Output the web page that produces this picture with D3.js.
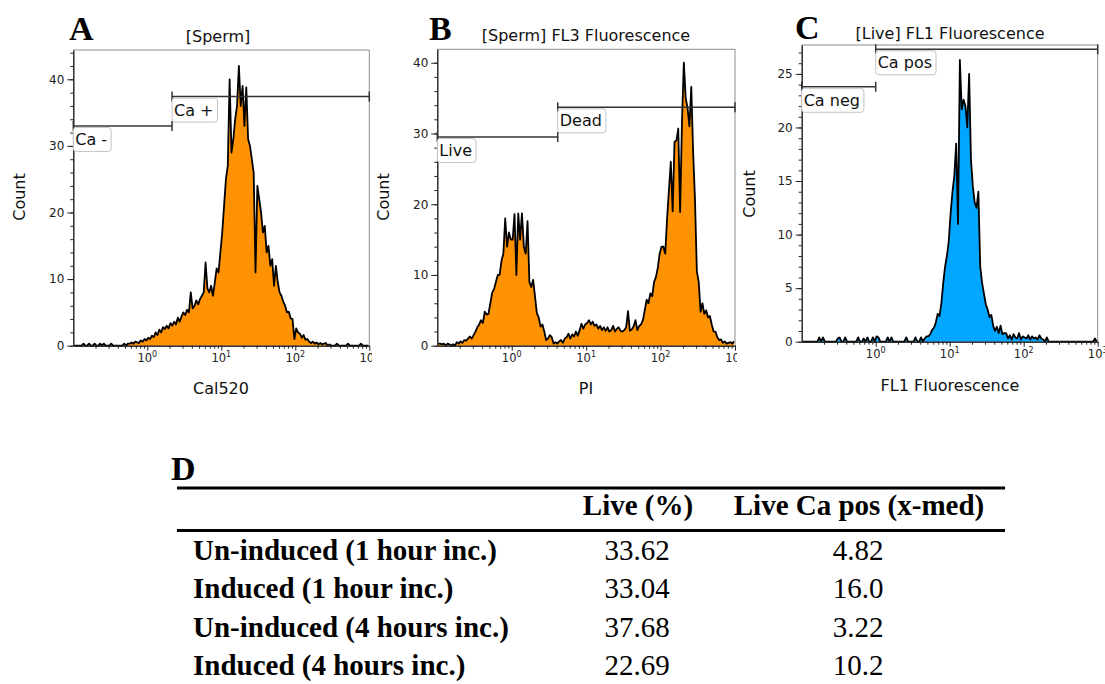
<!DOCTYPE html>
<html>
<head>
<meta charset="utf-8">
<script src="https://cdn.jsdelivr.net/npm/d3@7"></script>
<style>
  body { margin: 0; background: #fff; }
</style>
</head>
<body>
<script>
// histogram bins: 160 bins, 0.025 decade wide, starting at 10^-1
var binStart = -1;
var binStep = 0.025;

// Panel A - Cal520 counts
var calCounts = [
  0,0,0,0,0,0.3,0,0,0.3,0,
  0,0.3,0,0,0.3,0,0.3,0,0,0,
  0.3,0,0,0,0,0,0,0.3,0,0.3,
  0.3,0.5,0.3,0.6,0.5,0.4,0.8,0.6,1,0.8,
  1.2,1,1.5,1.3,2,1.6,2.4,2,2.8,2.5,
  3,2.6,3.4,3,3.6,3.2,4.2,3.6,4.4,5,
  4.6,5.4,5,8,5.6,6,6.8,6.2,7,7.5,
  8,12.5,8.6,8,9,7.5,9.5,11.6,11,14,
  17,21,25,27,40,29,31,34,36,42,
  36,39,33,38.8,31,30,28,26,11,24,
  22,20,17,18,14,15,12,13,9,12,
  9.6,8,7.5,6.6,6,5,5.1,4.1,4,1,
  2.6,2,1.8,1.2,1.6,0.9,1,0.6,0.4,0.6,
  0.3,0.5,0.2,0.4,0.2,0.3,0.4,0,0.2,0,
  0,0,0.3,0,0,0,0,0,0.3,0,
  0,0,0,0,0,0.3,0,0,0,0
];

// Panel B - PI counts
var piCounts = [
  0.3,0.3,0.2,0.3,0,0.3,0.2,0,0.2,0,
  0.5,0.3,0.6,0.4,0.8,0.7,1,1.3,1,1.5,
  2,2.6,3,3.6,3.2,4.8,4.4,4.5,6,7.5,
  8,9,10,10,12,13,18,14,16,15,
  15,18.6,10,18.7,15,18.7,14,13,17.6,9,
  8.3,9.3,7,4.6,4,2.7,3,2,0.8,1,
  1.5,1.2,0.3,0.5,0.3,0.6,0.8,0.4,1,1.2,
  1.7,1,1.6,1.3,2,1.4,2.2,3.1,2.4,3,
  3.2,3.6,3,3.4,2.8,3,2.4,2.8,2.2,2.6,
  2.1,2.6,2,2.2,2.8,2,2.4,2.6,2.1,2,
  2.2,2.6,4.9,2.1,2.3,2.7,3.6,2.2,2.8,3,
  3.6,5,6.5,6,7.4,7,9,9.7,11,13,
  14,14,13,18,22,26,19,28.8,29,30.7,
  18.9,31.6,40,35,33.6,31,36.6,27.4,20.6,10.5,
  9,4.8,6,4.5,5,4,4.2,3,2,2,
  1.2,0.8,0.9,0.4,0.6,0.3,0.4,0.5,0.3,0.6
];

// Panel C - FL1 counts (live gate)
var fl1Counts = [
  0,0,0,0,0,0,0,0,0,0.4,
  0,0.4,0,0,0,0,0,0,0,0.3,
  0.4,0,0,0.4,0,0,0,0,0,0,
  0.4,0,0,0.3,0,0.4,0,0,0.4,0,
  0.5,0.4,0,0,0,0,0.4,0,0.4,0,
  0,0,0,0,0,0,0.4,0,0,0,
  0,0.4,0,0,0.4,0,0.3,0.5,0.5,0.7,
  1.1,1.3,1.8,2.6,2.4,3.6,5.5,7,8,9.4,
  12,14,15.5,18.5,11,26.3,21.7,22.6,22,20,
  25,17,14.5,13,12.5,14,7,5.5,4.5,3.5,
  3,2.3,2.5,1.5,1,1.4,0.8,1.5,0.7,0.8,
  0.8,0.3,0.6,0.2,0.7,0.4,0.3,0.8,0.2,0.5,
  0.4,0.3,0.6,0.2,0.5,0.3,0.4,0.2,0.6,0.3,
  0.2,0,0.4,0,0,0,0,0,0,0,
  0,0,0,0,0,0,0,0,0,0,
  0,0,0,0,0,0,0,0,0.3,0
];

// gates: [name, low, high, count level]
var calGates = [["Ca -", 0.1, 2.16, 33.0], ["Ca +", 2.16, 1000, 37.4]];
var piGates = [["Live", 0.1, 4.15, 29.5], ["Dead", 4.15, 1000, 33.7]];
var fl1Gates = [["Ca neg", 0.1, 1.0, 23.8], ["Ca pos", 1.0, 1000, 27.3]];

var xMajor = [1, 10, 100, 1000];
var xExp = ["0", "1", "2", "3"];

// table D
var tableColumns = ["Live (%)", "Live Ca pos (x-med)"];
var rowLabels = ["Un-induced (1 hour inc.)", "Induced (1 hour inc.)", "Un-induced (4 hours inc.)", "Induced (4 hours inc.)"];
var liveValues = ["33.62", "33.04", "37.68", "22.69"];
var caPosValues = ["4.82", "16.0", "3.22", "10.2"];

var w = 1105;
var h = 684;
var sans = "'DejaVu Sans', Verdana, sans-serif";
var serif = "'Liberation Serif', 'Times New Roman', serif";

var svg = d3.select("body")
  .append("svg")
  .attr("width", w)
  .attr("height", h);
var defs = svg.append("defs");

var panels = [
  { id: "a", letter: "A", letterX: 69, letterY: 40, counts: calCounts, gates: calGates, fill: "#ff9200",
    left: 73.3, right: 369.3, top: 50, bottom: 345.7, yMax: 44.4, yStep: 10, yMinor: 2,
    title: "[Sperm]", titleX: 218, titleY: 42, xLabel: "Cal520", xLabelX: 221, xLabelY: 394,
    countX: 19, countY: 197, clipLeft: 0, clipRight: 372 },
  { id: "b", letter: "B", letterX: 429, letterY: 40, counts: piCounts, gates: piGates, fill: "#ff9200",
    left: 437.3, right: 735, top: 49.3, bottom: 345.7, yMax: 41.9, yStep: 10, yMinor: 2,
    title: "[Sperm] FL3 Fluorescence", titleX: 586, titleY: 41, xLabel: "PI", xLabelX: 586, xLabelY: 394,
    countX: 383, countY: 197, clipLeft: 372, clipRight: 737 },
  { id: "c", letter: "C", letterX: 795, letterY: 39, counts: fl1Counts, gates: fl1Gates, fill: "#00a6ff",
    left: 801.7, right: 1097.7, top: 45, bottom: 341.7, yMax: 27.7, yStep: 5, yMinor: 1,
    title: "[Live] FL1 Fluorescence", titleX: 950, titleY: 39, xLabel: "FL1 Fluorescence", xLabelX: 950, xLabelY: 391,
    countX: 749, countY: 194, clipLeft: 737, clipRight: 1105 }
];

panels.forEach(function(p) {
  defs.append("clipPath").attr("id", "clip-" + p.id)
    .append("rect")
    .attr("x", p.clipLeft).attr("y", 0)
    .attr("width", p.clipRight - p.clipLeft).attr("height", 420);

  var g = svg.append("g").attr("clip-path", "url(#clip-" + p.id + ")");

  var xScale = d3.scaleLog().domain([0.1, 1000]).range([p.left, p.right]);
  var yScale = d3.scaleLinear().domain([0, p.yMax]).range([p.bottom, p.top]);

  var bins = p.counts.map(function(c, i) {
    return { v: Math.pow(10, binStart + (i + 0.5) * binStep), c: c };
  });

  // the histogram
  g.append("path")
    .datum(bins)
    .attr("d", d3.area()
      .x(function(d) { return xScale(d.v); })
      .y0(yScale(0))
      .y1(function(d) { return yScale(d.c); }))
    .attr("fill", p.fill);

  g.append("path")
    .datum(bins)
    .attr("d", d3.line()
      .x(function(d) { return xScale(d.v); })
      .y(function(d) { return yScale(d.c); }))
    .attr("fill", "none")
    .attr("stroke", "#000")
    .attr("stroke-width", 1.8)
    .attr("stroke-linejoin", "round");

  // frame top / right
  g.append("path")
    .attr("d", "M" + p.left + "," + p.top + "H" + p.right + "V" + p.bottom)
    .attr("fill", "none")
    .attr("stroke", "#8c8c8c")
    .attr("stroke-width", 1);

  // y minor ticks
  var yMinorAxis = d3.axisLeft(yScale)
    .tickValues(d3.range(0, p.yMax, p.yMinor))
    .tickSize(3)
    .tickSizeOuter(0)
    .tickFormat("");
  g.append("g")
    .attr("transform", "translate(" + p.left + ",0)")
    .call(yMinorAxis);

  // y major ticks
  var yAxis = d3.axisLeft(yScale)
    .tickValues(d3.range(0, p.yMax, p.yStep))
    .tickSize(6)
    .tickSizeOuter(0)
    .tickPadding(3)
    .tickFormat(d3.format("d"));
  var ya = g.append("g")
    .attr("transform", "translate(" + p.left + ",0)")
    .call(yAxis);
  ya.selectAll("text")
    .attr("font-family", sans)
    .attr("font-size", 12)
    .attr("fill", "#222");

  // x minor ticks
  var minor = [];
  [0.1, 1, 10, 100].forEach(function(dec) {
    for (var k = 2; k <= 9; k++) minor.push(dec * k);
  });
  var xMinorAxis = d3.axisBottom(xScale)
    .tickValues(minor)
    .tickSize(3)
    .tickSizeOuter(0)
    .tickFormat("");
  g.append("g")
    .attr("transform", "translate(0," + p.bottom + ")")
    .call(xMinorAxis);

  // x major ticks
  var xAxis = d3.axisBottom(xScale)
    .tickValues(xMajor)
    .tickSize(5)
    .tickSizeOuter(0)
    .tickFormat("");
  g.append("g")
    .attr("transform", "translate(0," + p.bottom + ")")
    .call(xAxis);

  svg.selectAll("g .domain").attr("stroke", "#222");
  svg.selectAll("g .tick line").attr("stroke", "#222");

  // x tick labels 10^n
  var lab = g.selectAll(".xlab")
    .data(xMajor)
    .enter()
    .append("text")
    .attr("class", "xlab")
    .attr("x", function(d) { return xScale(d); })
    .attr("y", p.bottom + 16)
    .attr("text-anchor", "middle")
    .attr("font-family", sans)
    .attr("font-size", 11.5)
    .attr("fill", "#222");
  lab.append("tspan").text("10");
  lab.append("tspan")
    .attr("dy", -5)
    .attr("font-size", 8)
    .text(function(d, i) { return xExp[i]; });

  // gates
  p.gates.forEach(function(gt) {
    var x1 = xScale(gt[1]);
    var x2 = xScale(gt[2]);
    var gy = yScale(gt[3]);
    g.append("line")
      .attr("x1", x1).attr("x2", x2).attr("y1", gy).attr("y2", gy)
      .attr("stroke", "#333").attr("stroke-width", 1.5);
    [x1, x2].forEach(function(ex) {
      g.append("line")
        .attr("x1", ex).attr("x2", ex).attr("y1", gy - 5).attr("y2", gy + 5)
        .attr("stroke", "#333").attr("stroke-width", 1.5);
    });
    var box = g.append("rect");
    var t = g.append("text")
      .attr("x", x1 + 2)
      .attr("y", gy + 19)
      .attr("font-family", sans)
      .attr("font-size", 16)
      .attr("fill", "#111")
      .text(gt[0]);
    var tw = t.node().getComputedTextLength();
    box.attr("x", x1).attr("y", gy + 1.5)
      .attr("width", tw + 6).attr("height", 24)
      .attr("rx", 3)
      .attr("fill", "#fff")
      .attr("stroke", "#c4c4c4");
  });

  // titles and axis labels
  g.append("text")
    .attr("x", p.titleX).attr("y", p.titleY)
    .attr("text-anchor", "middle")
    .attr("font-family", sans).attr("font-size", 16).attr("fill", "#111")
    .text(p.title);

  g.append("text")
    .attr("x", p.xLabelX).attr("y", p.xLabelY)
    .attr("text-anchor", "middle")
    .attr("font-family", sans).attr("font-size", 16).attr("fill", "#111")
    .text(p.xLabel);

  g.append("text")
    .attr("transform", "translate(" + (p.countX + 6) + "," + p.countY + ") rotate(-90)")
    .attr("text-anchor", "middle")
    .attr("font-family", sans).attr("font-size", 16).attr("fill", "#111")
    .text("Count");

  g.append("text")
    .attr("x", p.letterX).attr("y", p.letterY)
    .attr("font-family", serif).attr("font-size", 34).attr("font-weight", "bold")
    .attr("fill", "#000")
    .text(p.letter);
});

// ---- table D ----
var tableLeft = 177;
var tableRight = 1005;
var colX = d3.scalePoint().domain(tableColumns).range([638, 859]);
var rowY = d3.scalePoint().domain(rowLabels).range([560, 675]);

svg.append("text")
  .attr("x", 171).attr("y", 480)
  .attr("font-family", serif).attr("font-size", 34).attr("font-weight", "bold")
  .text("D");

[488, 530.5].forEach(function(ry) {
  svg.append("line")
    .attr("x1", tableLeft).attr("x2", tableRight)
    .attr("y1", ry).attr("y2", ry)
    .attr("stroke", "#000").attr("stroke-width", 3);
});

svg.selectAll(".colhead")
  .data(tableColumns)
  .enter()
  .append("text")
  .attr("x", function(d) { return colX(d); })
  .attr("y", 515)
  .attr("text-anchor", "middle")
  .attr("font-family", serif).attr("font-size", 29).attr("font-weight", "bold")
  .text(function(d) { return d; });

svg.selectAll(".rowlab")
  .data(rowLabels)
  .enter()
  .append("text")
  .attr("x", 193)
  .attr("y", function(d) { return rowY(d); })
  .attr("font-family", serif).attr("font-size", 29).attr("font-weight", "bold")
  .text(function(d) { return d; });

[liveValues, caPosValues].forEach(function(vals, c) {
  svg.selectAll(".val" + c)
    .data(vals)
    .enter()
    .append("text")
    .attr("x", colX(tableColumns[c]) - 1)
    .attr("y", function(d, i) { return rowY(rowLabels[i]); })
    .attr("text-anchor", "middle")
    .attr("font-family", serif).attr("font-size", 29)
    .text(function(d) { return d; });
});
</script>
</body>
</html>
